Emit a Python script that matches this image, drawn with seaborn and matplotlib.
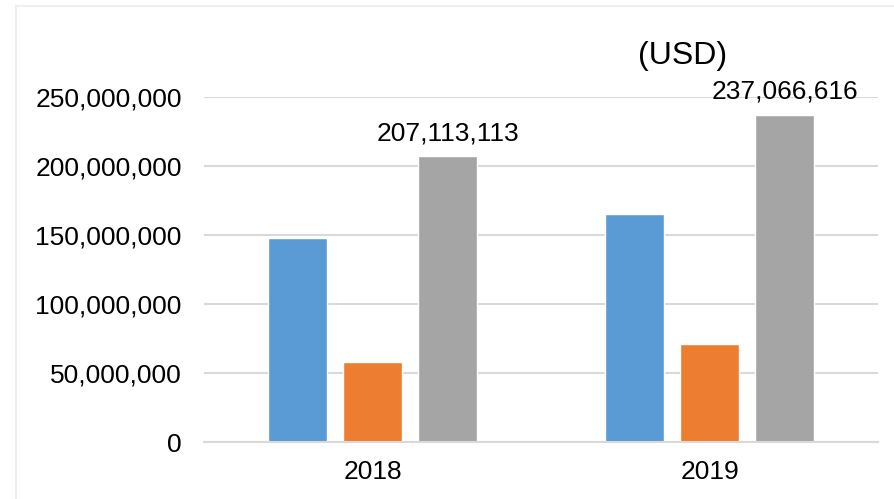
import matplotlib
matplotlib.use("Agg")
import matplotlib.pyplot as plt
import matplotlib.ticker as mticker
from matplotlib.lines import Line2D
import seaborn as sns
import pandas as pd

years = ["2018", "2019"]
series = ["A", "B", "C"]
values_a = [148_000_000, 165_000_000]
values_b = [58_300_000, 71_300_000]
values_c = [207_113_113, 237_066_616]
colors = ["#5B9BD5", "#ED7D31", "#A5A5A5"]
yticks = [0, 50_000_000, 100_000_000, 150_000_000, 200_000_000, 250_000_000]

rows = []
for s, vals in zip(series, [values_a, values_b, values_c]):
    for y, v in zip(years, vals):
        rows.append({"year": y, "series": s, "value": v})
df = pd.DataFrame(rows)

sns.set_theme(style="white")
plt.rcParams["font.family"] = ["Liberation Sans", "DejaVu Sans"]

fig = plt.figure(figsize=(8.94, 4.99), dpi=100)
ax = fig.add_axes([204/894, 1-442/499, (878-204)/894, (442-97)/499])

sns.barplot(data=df, x="year", y="value", hue="series", order=years,
            hue_order=series, palette=colors, width=0.6675, gap=0.21,
            saturation=1, legend=False, ax=ax, errorbar=None)

ax.set_xlim(-0.5, 1.5)
ax.set_ylim(0, 250_000_000)
ax.set_yticks(yticks)
ax.yaxis.set_major_formatter(mticker.FuncFormatter(lambda v, p: f"{int(v):,}"))
ax.grid(axis="y", color="#D9D9D9", linewidth=1.5)
ax.set_axisbelow(True)
for s in ["left", "right", "top"]:
    ax.spines[s].set_visible(False)
ax.spines["bottom"].set_color("#D9D9D9")
ax.spines["bottom"].set_linewidth(1.5)
ax.tick_params(axis="both", length=0, labelsize=19, colors="black")
ax.tick_params(axis="y", pad=16)
ax.tick_params(axis="x", pad=13)
ax.set_xlabel("")
ax.set_ylabel("")

# data labels on the gray bars
gray = ax.containers[2]
for bar, v in zip(gray, values_c):
    ax.annotate(f"{v:,}", (bar.get_x() + bar.get_width()/2, bar.get_height()),
                xytext=(0, 8), textcoords="offset points", ha="center",
                va="bottom", fontsize=19, color="black", annotation_clip=False)

fig.text(683/894, 1-56/499, "(USD)", ha="center", va="center", fontsize=23, color="black")

# light border of the chart frame
fig.add_artist(Line2D([16/894, 1], [1-6/499, 1-6/499], color="#EFEFEF", linewidth=1.5, transform=fig.transFigure))
fig.add_artist(Line2D([16/894, 16/894], [0, 1-6/499], color="#EFEFEF", linewidth=1.5, transform=fig.transFigure))

fig.savefig("out.png", dpi=100)
